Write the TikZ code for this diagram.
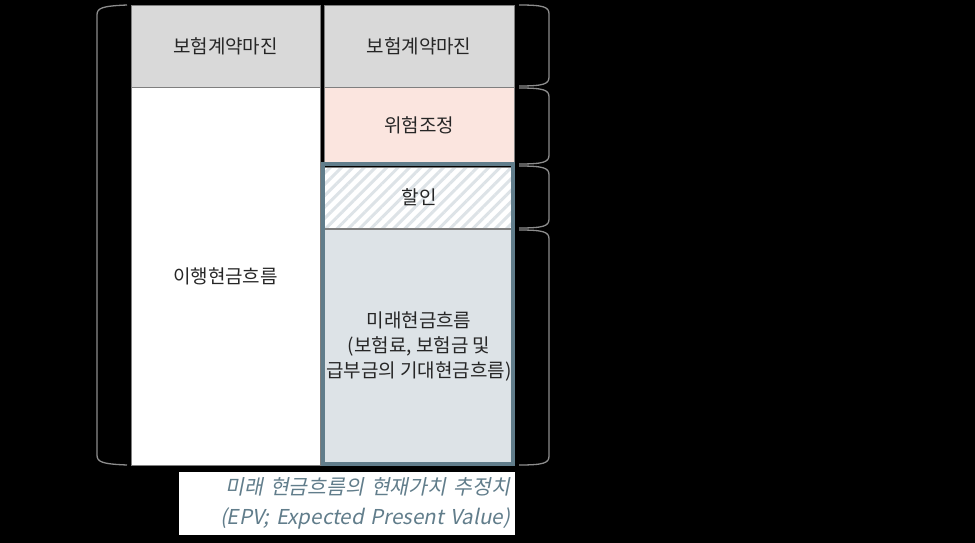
\documentclass[tikz,border=0pt]{standalone}
\usepackage{fontspec}
\setmainfont{Noto Sans CJK KR}
\newfontfamily\epvfont[FakeSlant=0.2]{Noto Sans CJK KR}
\usetikzlibrary{
    patterns.meta
}
\definecolor{mgngray}{HTML}{D9D9D9}
\definecolor{edgegray}{HTML}{7F7F7F}
\definecolor{riskpink}{HTML}{FBE5DF}
\definecolor{futblue}{HTML}{DDE3E7}
\definecolor{epvblue}{HTML}{617D8B}
\definecolor{txtgray}{HTML}{262626}
\definecolor{brkgray}{HTML}{8C8C8C}
\tikzset{
    cell/.style={draw=edgegray, line width=0.8pt, inner sep=0pt, align=center,
        minimum width=190pt, text=txtgray, font=\fontsize{19}{25}\selectfont},
    hatched/.style={preaction={fill=white}, pattern color=futblue,
        pattern={Lines[angle=45, distance=8pt, line width=3pt]}},
    brk/.style={draw=brkgray, line width=1.3pt},
    epvframe/.style={draw=epvblue, line width=4pt},
    epvlabel/.style={fill=white, inner xsep=5pt, inner ysep=0pt, text width=326pt,
        minimum height=63pt, align=right, text=epvblue,
        font=\epvfont\fontsize{20.5}{30}\selectfont}
}

\begin{document}
\begin{tikzpicture}[x=1pt, y=-1pt]
    \fill[black] (0,0) rectangle (975,543);
    \useasboundingbox (0,0) rectangle (975,543);

    % left column
    \node[cell, fill=mgngray, minimum width=189pt, minimum height=82pt] (lmgn) at (225.5,46) {보험계약마진};
    \node[cell, fill=white, minimum width=189pt, minimum height=378pt] (lfcf) at (225.5,276) {이행현금흐름};

    % right column
    \node[cell, fill=mgngray, minimum height=82pt] (rmgn) at (419,46) {보험계약마진};
    \node[cell, fill=riskpink, minimum height=76pt] (risk) at (419,125) {위험조정};
    \node[cell, hatched, minimum height=61pt] (disc) at (419,197.5) {할인};
    \node[cell, fill=futblue, minimum height=235pt] (fcf) at (419,347)
        {미래현금흐름\\(보험료, 보험금 및\\급부금의 기대현금흐름)};
    \draw[epvframe] ([shift={(0.5,-2)}]disc.north west) rectangle ([shift={(-1,-0.5)}]fcf.south east);

    % brackets
    \draw[brk] (127,5) .. controls (102,6) and (97,8) .. (97,15) -- (97,455)
        .. controls (97,462) and (102,464) .. (127,465);
    \foreach \ya/\yb in {5/86, 88/164, 166/228, 230/465}
        \draw[brk] (519,\ya) .. controls (544,\ya) and (549,\ya+2) .. (549,\ya+9) -- (549,\yb-9)
            .. controls (549,\yb-2) and (544,\yb) .. (519,\yb);

    % label
    \node[epvlabel] (epv) at (347,503.5) {미래 현금흐름의 현재가치 추정치\\(EPV; Expected Present Value)};
\end{tikzpicture}
\end{document}
